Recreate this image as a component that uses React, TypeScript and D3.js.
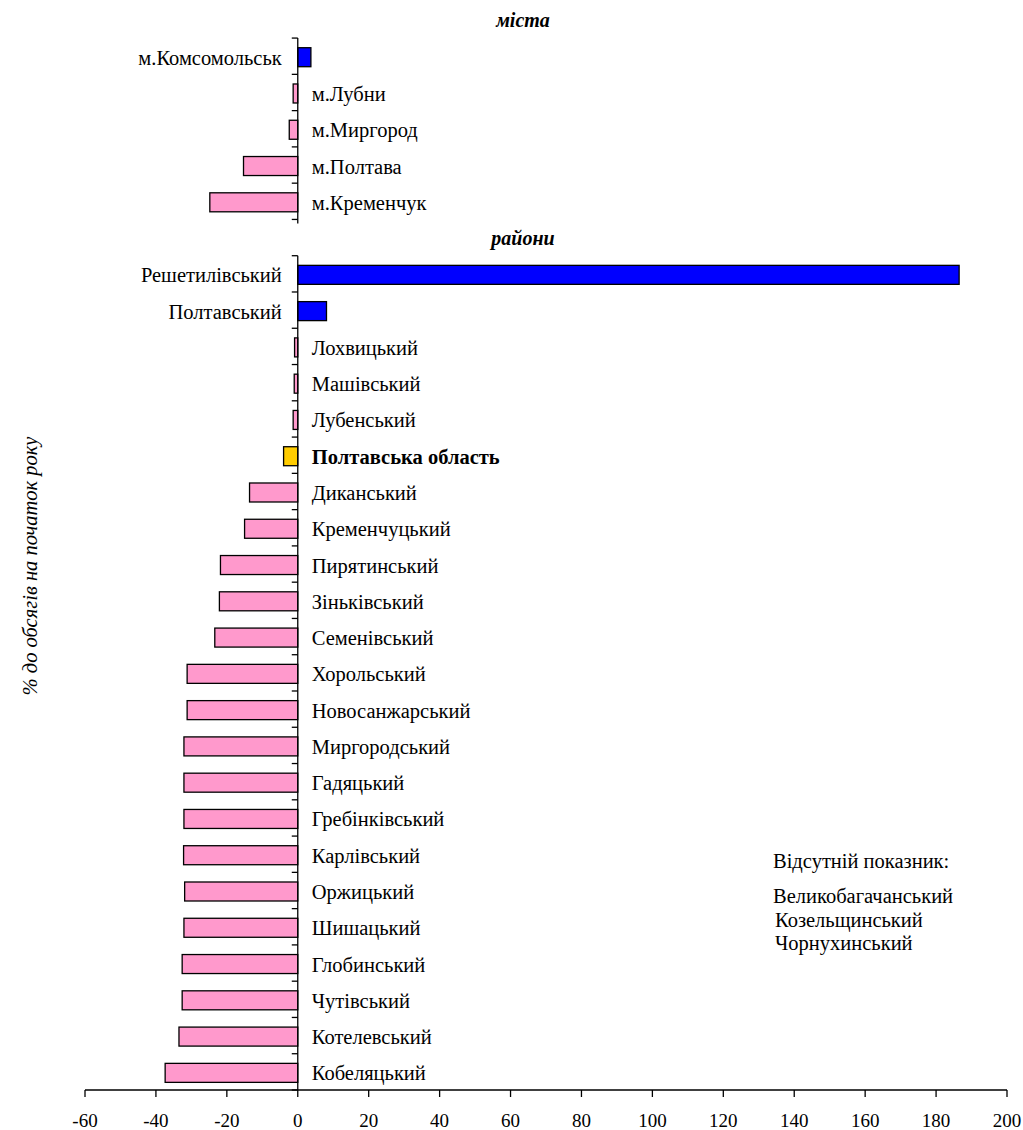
import React from "react";
import * as d3 from "d3";

const cities = ["м.Комсомольськ", "м.Лубни", "м.Миргород", "м.Полтава", "м.Кременчук"];
const cityValues = [3.7, -1.3, -2.4, -15.3, -24.8];

const districts = [
  "Решетилівський", "Полтавський", "Лохвицький", "Машівський", "Лубенський",
  "Полтавська область", "Диканський", "Кременчуцький", "Пирятинський", "Зіньківський",
  "Семенівський", "Хорольський", "Новосанжарський", "Миргородський", "Гадяцький",
  "Гребінківський", "Карлівський", "Оржицький", "Шишацький", "Глобинський",
  "Чутівський", "Котелевський", "Кобеляцький",
];
const districtValues = [
  186.5, 8.1, -0.9, -1.0, -1.3,
  -4.0, -13.6, -15.0, -21.8, -22.1,
  -23.4, -31.2, -31.2, -32.1, -32.1,
  -32.1, -32.2, -31.9, -32.1, -32.6,
  -32.6, -33.5, -37.4,
];

const xTicks = [-60, -40, -20, 0, 20, 40, 60, 80, 100, 120, 140, 160, 180, 200];
const groupTitles = ["міста", "райони"];
const yTitle = "% до обсягів на початок року";
const missingTitle = "Відсутній показник:";
const missing = ["Великобагачанський", "Козельщинський", "Чорнухинський"];

const total = "Полтавська область";
const FONT = "Liberation Serif, Times New Roman, serif";

export default function App() {
  const width = 1023;
  const height = 1130;

  const x = d3.scaleLinear().domain([-60, 200]).range([85, 1007]);

  // one band per row, with an empty band above each group for its title
  const slots = ["#t0", ...cities, "#t1", ...districts];
  const y = d3.scaleBand<string>().domain(slots).range([1.8, 1090]).paddingInner(0).paddingOuter(0);
  const bw = y.bandwidth();
  const barH = 19;
  const fs = 20.5;

  const rows = [
    ...cities.map((name, i) => ({ name, value: cityValues[i] })),
    ...districts.map((name, i) => ({ name, value: districtValues[i] })),
  ];

  const x0 = x(0);
  const segments = [{ names: cities }, { names: districts }];
  const txt = { fontFamily: FONT };

  return (
    <svg width={width} height={height} style={{ position: "absolute", left: 0, top: 0, background: "#fff", fontFamily: FONT }}>
      {/* group titles */}
      {["#t0", "#t1"].map((k, i) => (
        <text key={k} style={txt} x={523} y={(y(k) as number) + bw / 2 + 7} textAnchor="middle" fontSize={20} fontWeight="bold" fontStyle="italic">
          {groupTitles[i]}
        </text>
      ))}

      {/* bars */}
      {rows.map((d) => {
        const yc = (y(d.name) as number) + bw / 2 + 1;
        const fill = d.name === total ? "#FFCC00" : d.value >= 0 ? "#0000FF" : "#FF99CC";
        return (
          <rect
            key={d.name}
            x={Math.min(x(d.value), x0)}
            y={yc - barH / 2}
            width={Math.abs(x(d.value) - x0)}
            height={barH}
            fill={fill}
            stroke="#000"
            strokeWidth={1.3}
          />
        );
      })}

      {/* category labels */}
      {rows.map((d) => {
        const yc = (y(d.name) as number) + bw / 2 + 1;
        const pos = d.value >= 0;
        return (
          <text
            key={"l" + d.name}
            style={txt}
            x={pos ? x0 - 16 : x0 + 14}
            y={yc + 7.5}
            textAnchor={pos ? "end" : "start"}
            fontSize={fs}
            fontWeight={d.name === total ? "bold" : "normal"}
          >
            {d.name}
          </text>
        );
      })}

      {/* vertical axis segments */}
      {segments.map((s, i) => {
        const top = y(s.names[0]) as number;
        const bottom = (y(s.names[s.names.length - 1]) as number) + bw;
        const bounds = [...s.names.map((n) => y(n) as number), bottom];
        return (
          <g key={i}>
            <line x1={x0} x2={x0} y1={top} y2={bottom + (i === 0 ? 4 : 0)} stroke="#000" strokeWidth={1.3} />
            {bounds.map((b, j) => (
              <line key={j} x1={x0 - 6} x2={x0} y1={b} y2={b} stroke="#000" strokeWidth={1.3} />
            ))}
          </g>
        );
      })}

      {/* x axis */}
      <g>
        <line x1={x(-60)} x2={x(200)} y1={1090} y2={1090} stroke="#000" strokeWidth={1.3} />
        {xTicks.map((t) => (
          <g key={t} transform={`translate(${x(t)},1090)`}>
            <line y2={7} stroke="#000" strokeWidth={1.3} />
            <text style={txt} y={37} textAnchor="middle" fontSize={19}>
              {t}
            </text>
          </g>
        ))}
      </g>

      {/* y title */}
      <text style={txt} transform="translate(37,566) rotate(-90)" textAnchor="middle" fontSize={fs} fontStyle="italic">
        {yTitle}
      </text>

      {/* missing note */}
      <text style={txt} x={773} y={868} fontSize={fs}>
        {missingTitle}
      </text>
      {missing.map((m, i) => (
        <text key={m} style={txt} x={i === 0 ? 773 : 775} y={903 + i * 23.5} fontSize={fs}>
          {m}
        </text>
      ))}
    </svg>
  );
}
